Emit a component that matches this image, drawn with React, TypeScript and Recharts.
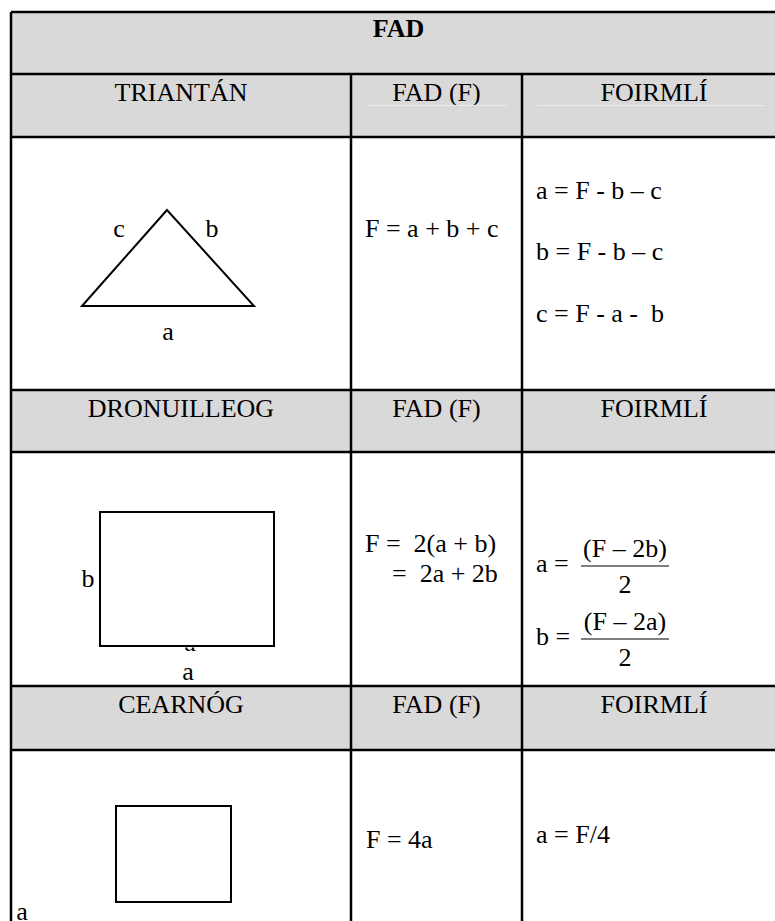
import React from 'react';
import {
  ComposedChart,
  XAxis,
  YAxis,
  Line,
  ReferenceArea,
  ReferenceLine,
  Customized,
} from 'recharts';

// page-sized chart, axes map 1:1 onto pixels
const W = 775;
const H = 921;
const FONT = '"Liberation Serif", "Times New Roman", serif';

// table text
const title = 'FAD';
const shapeNames = ['TRIANTÁN', 'DRONUILLEOG', 'CEARNÓG'];
const columnHeads = ['FAD (F)', 'FOIRMLÍ'];
const trianglePerimeter = 'F = a + b + c';
const triangleFormulas = ['a = F - b – c', 'b = F - b – c', 'c = F - a -  b'];
const rectanglePerimeter = ['F =  2(a + b)', '=  2a + 2b'];
const rectangleFormulas = [
  { lhs: 'a = ', num: '(F – 2b)', den: '2' },
  { lhs: 'b = ', num: '(F – 2a)', den: '2' },
];
const squarePerimeter = 'F = 4a';
const squareFormulas = ['a = F/4'];

// shape outlines (first edge repeated so the closing corner joins)
const triangle = [
  { x: 167, y: 210 },
  { x: 82, y: 306 },
  { x: 254, y: 306 },
  { x: 167, y: 210 },
  { x: 82, y: 306 },
];
const rectangle = [
  { x: 100, y: 512 },
  { x: 274, y: 512 },
  { x: 274, y: 646 },
  { x: 100, y: 646 },
  { x: 100, y: 512 },
  { x: 274, y: 512 },
];
const square = [
  { x: 116, y: 806 },
  { x: 231, y: 806 },
  { x: 231, y: 902 },
  { x: 116, y: 902 },
  { x: 116, y: 806 },
  { x: 231, y: 806 },
];

// side labels
const triangleLabels = [
  { t: 'c', x: 119, y: 237 },
  { t: 'b', x: 212, y: 237 },
  { t: 'a', x: 168, y: 340 },
];
const rectangleLabels = [
  { t: 'b', x: 88, y: 587 },
  { t: 'a', x: 188, y: 680 },
];
const squareLabels = [{ t: 'a', x: 22, y: 920 }];

// grid
const colEdges = [11, 351, 522, 786];
const rowEdges = [12, 74, 137, 390, 452, 686, 750, 960];
const headerRows = [1, 3, 5];

const T = ({ x, y, anchor = 'start', bold = false, children }: any) => (
  <text
    x={x}
    y={y}
    textAnchor={anchor}
    fontFamily={FONT}
    fontSize={26}
    fontWeight={bold ? 'bold' : 'normal'}
    fill="#000"
    style={{ whiteSpace: 'pre' }}
  >
    {children}
  </text>
);

// label drawn inside a grey header cell, near its top
const CellLabel = ({ viewBox, text, bold, drop }: any) => {
  if (!viewBox) return null;
  return (
    <T x={viewBox.x + viewBox.width / 2} y={viewBox.y + drop} anchor="middle" bold={bold}>
      {text}
    </T>
  );
};

const TextLayer = () => (
  <g>
    <defs>
      <clipPath id="hiddenA">
        <rect x={150} y={647.5} width={80} height={10} />
      </clipPath>
    </defs>

    {triangleLabels.map((l) => (
      <T key={l.t} x={l.x} y={l.y} anchor="middle">{l.t}</T>
    ))}
    <T x={365} y={237}>{trianglePerimeter}</T>
    {triangleFormulas.map((f, i) => (
      <T key={f} x={536} y={199 + i * 61.3}>{f}</T>
    ))}

    <g clipPath="url(#hiddenA)">
      <T x={190} y={651} anchor="middle">a</T>
    </g>
    {rectangleLabels.map((l) => (
      <T key={l.t} x={l.x} y={l.y} anchor="middle">{l.t}</T>
    ))}
    <T x={365} y={552}>{rectanglePerimeter[0]}</T>
    <T x={392} y={582}>{rectanglePerimeter[1]}</T>
    {rectangleFormulas.map((f, i) => {
      const base = i === 0 ? 572 : 645;
      return (
        <g key={f.lhs}>
          <T x={536} y={base}>{f.lhs}</T>
          <T x={625} y={base - 15} anchor="middle">{f.num}</T>
          <line x1={581} x2={669} y1={base - 6} y2={base - 6} stroke="#000" strokeWidth={1.2} />
          <T x={625} y={base + 21} anchor="middle">{f.den}</T>
        </g>
      );
    })}

    {squareLabels.map((l) => (
      <T key={l.t} x={l.x} y={l.y} anchor="middle">{l.t}</T>
    ))}
    <T x={366} y={848}>{squarePerimeter}</T>
    {squareFormulas.map((f) => (
      <T key={f} x={536} y={843}>{f}</T>
    ))}
  </g>
);

export default function App() {
  const lines: { a: { x: number; y: number }; b: { x: number; y: number } }[] = [];
  rowEdges.slice(0, 7).forEach((y) =>
    lines.push({ a: { x: colEdges[0], y }, b: { x: colEdges[3], y } })
  );
  lines.push({ a: { x: colEdges[0], y: rowEdges[0] }, b: { x: colEdges[0], y: rowEdges[7] } });
  lines.push({ a: { x: colEdges[1], y: rowEdges[1] }, b: { x: colEdges[1], y: rowEdges[7] } });
  lines.push({ a: { x: colEdges[2], y: rowEdges[1] }, b: { x: colEdges[2], y: rowEdges[7] } });

  const headerCells: { x1: number; x2: number; y1: number; y2: number; text: string }[] = [];
  headerRows.forEach((r, i) => {
    const texts = [shapeNames[i], columnHeads[0], columnHeads[1]];
    texts.forEach((text, c) =>
      headerCells.push({ x1: colEdges[c], x2: colEdges[c + 1], y1: rowEdges[r], y2: rowEdges[r + 1], text })
    );
  });

  return (
    <div style={{ position: 'absolute', left: 0, top: 0, width: W, height: H, background: '#fff', overflow: 'hidden' }}>
      <ComposedChart width={W} height={H} margin={{ top: 0, right: 0, bottom: 0, left: 0 }}>
        <XAxis type="number" dataKey="x" domain={[0, W]} hide allowDataOverflow />
        <YAxis type="number" dataKey="y" domain={[0, H]} reversed hide allowDataOverflow />

        <ReferenceArea
          x1={colEdges[0]}
          x2={colEdges[3]}
          y1={rowEdges[0]}
          y2={rowEdges[1]}
          fill="#d9d9d9"
          fillOpacity={1}
          stroke="none"
          ifOverflow="visible"
          label={<CellLabel text={title} bold drop={25} />}
        />
        {headerCells.map((c, i) => (
          <ReferenceArea
            key={i}
            x1={c.x1}
            x2={c.x2}
            y1={c.y1}
            y2={c.y2}
            fill="#d9d9d9"
            fillOpacity={1}
            stroke="none"
            ifOverflow="visible"
            label={<CellLabel text={c.text} drop={27} />}
          />
        ))}
        <ReferenceLine segment={[{ x: 367, y: 105.5 }, { x: 507, y: 105.5 }]} stroke="#e9e9e9" strokeWidth={1} ifOverflow="visible" />
        <ReferenceLine segment={[{ x: 537, y: 105.5 }, { x: 765, y: 105.5 }]} stroke="#e9e9e9" strokeWidth={1} ifOverflow="visible" />
        {lines.map((l, i) => (
          <ReferenceLine key={i} segment={[l.a, l.b]} stroke="#000" strokeWidth={2.5} ifOverflow="visible" />
        ))}

        <Line data={triangle} dataKey="y" type="linear" stroke="#000" strokeWidth={2} dot={false} activeDot={false} isAnimationActive={false} />
        <Line data={rectangle} dataKey="y" type="linear" stroke="#000" strokeWidth={2} dot={false} activeDot={false} isAnimationActive={false} />
        <Line data={square} dataKey="y" type="linear" stroke="#000" strokeWidth={2} dot={false} activeDot={false} isAnimationActive={false} />

        <Customized component={TextLayer} />
      </ComposedChart>
    </div>
  );
}
